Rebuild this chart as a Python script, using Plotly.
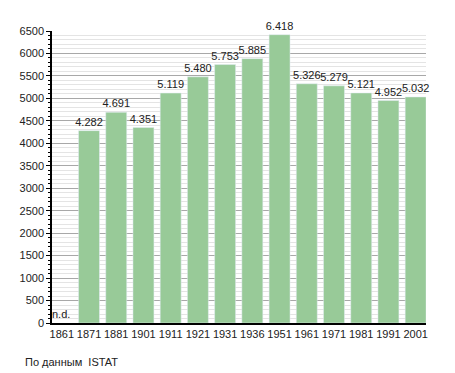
import plotly.graph_objects as go

years = ["1861", "1871", "1881", "1901", "1911", "1921", "1931", "1936",
         "1951", "1961", "1971", "1981", "1991", "2001"]
population = [None, 4282, 4691, 4351, 5119, 5480, 5753, 5885,
              6418, 5326, 5279, 5121, 4952, 5032]
labels = ["" if v is None else f"{v:,}".replace(",", ".") for v in population]

fig = go.Figure(go.Bar(
    x=years, y=population, text=labels, textposition="outside",
    marker=dict(color="#98ca98"),
    textfont=dict(size=11, color="#222"),
    constraintext="none", cliponaxis=False,
))

# page has an 8px body margin; figure coordinates below account for it
L, R, T, B = 42, 37, 23, 58
pw, ph = 455 - L - R, 373 - T - B

fig.add_annotation(x=0, y=0, xref="x", yref="y", text="n.d.", showarrow=False,
                   yanchor="bottom", xanchor="center", xshift=-1, yshift=1,
                   font=dict(size=11, color="#222"))
fig.add_annotation(x=(13 - L) / pw, y=(ph - (354 - T)) / ph, xref="paper", yref="paper",
                   text="По данным  ISTAT", showarrow=False,
                   xanchor="left", yanchor="middle",
                   font=dict(size=11, color="#222"))

fig.update_layout(
    width=455, height=373,
    margin=dict(l=L, r=R, t=T, b=B),
    paper_bgcolor="white", plot_bgcolor="white",
    font=dict(family="Liberation Sans, Arial, sans-serif", size=11, color="#222"),
    bargap=0.23, showlegend=False,
    xaxis=dict(type="category", range=[-0.36, 13.38], showline=True,
               linecolor="black", linewidth=1.5),
    yaxis=dict(range=[0, 6500], dtick=500, showgrid=True, gridcolor="#a8a8a8",
               showline=True, linecolor="black", linewidth=1.5,
               ticks="outside", ticklen=4, tickcolor="black", zeroline=False,
               minor=dict(dtick=100, showgrid=True, gridcolor="#e4e4e4",
                          ticks="outside", ticklen=2, tickcolor="black")),
)

fig.write_html("out.html")
